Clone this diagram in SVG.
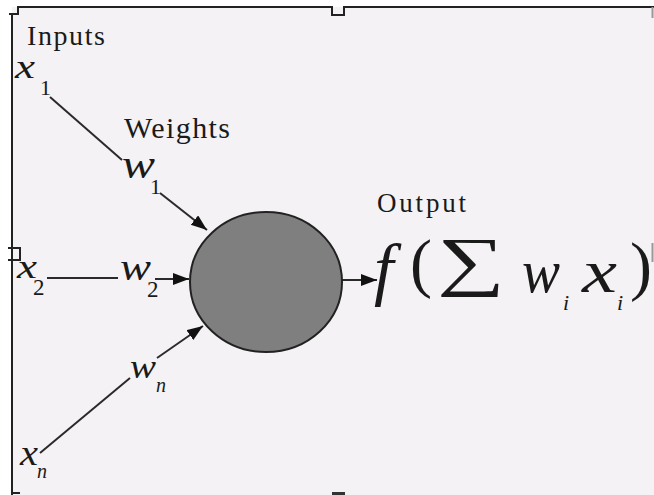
<svg xmlns="http://www.w3.org/2000/svg" width="654" height="495" viewBox="0 0 654 495">
<defs>
<style>
.t{font-family:"Liberation Serif","Times New Roman",serif;fill:#1a1a1a}
.i{font-style:italic}
.ln{stroke:#2a2a2a;stroke-width:2;fill:none}
.fr{stroke:#222;stroke-width:2;fill:none}
</style>
<marker id="ah" markerUnits="userSpaceOnUse" markerWidth="18" markerHeight="14" refX="16" refY="6" orient="auto">
<path d="M0,0 L16,6 L0,12 z" fill="#111"/>
</marker>
</defs>
<rect x="0" y="0" width="654" height="495" fill="#ffffff"/>
<rect x="12" y="7" width="642" height="488" fill="#f4f2f4"/>
<g id="frame">
<path class="fr" d="M9,14 H18 V7 H332 V15 H344 V7 H654"/>
<path class="fr" d="M12,14 V495"/>
<path class="fr" d="M8,248 H20 V260 H8"/>
<path class="fr" d="M12,493 H20"/>
<rect x="332" y="492" width="13" height="3" fill="#333"/>
<path d="M652.5,7 V18 M652.5,243 V262" stroke="#999" stroke-width="2"/>
</g>
<g id="connectors">
<line class="ln" x1="50" y1="97" x2="122" y2="160"/>
<line class="ln" x1="160" y1="193" x2="207" y2="230" marker-end="url(#ah)"/>
<line class="ln" x1="47" y1="278" x2="118" y2="278"/>
<line class="ln" x1="155" y1="279" x2="189" y2="279" marker-end="url(#ah)"/>
<line class="ln" x1="40" y1="453" x2="130" y2="378"/>
<line class="ln" x1="157" y1="358" x2="203" y2="326" marker-end="url(#ah)"/>
<line class="ln" x1="342" y1="280" x2="377" y2="280" marker-end="url(#ah)"/>
</g>
<g id="neuron">
<ellipse cx="266" cy="282" rx="76" ry="70" fill="#7f7f7f" stroke="#222" stroke-width="2"/>
</g>
<g id="labels">
<text class="t" x="27" y="45" font-size="28" textLength="78">Inputs</text>
<text class="t" x="124" y="138" font-size="30" textLength="106">Weights</text>
<text class="t" x="377" y="212" font-size="27" textLength="89">Output</text>
</g>
<g id="x1">
<text class="t i" x="15" y="78" font-size="34" textLength="20" lengthAdjust="spacingAndGlyphs">x</text>
<text class="t" x="40" y="95" font-size="22">1</text>
</g>
<g id="w1">
<text class="t i" x="122" y="178" font-size="40" textLength="33" lengthAdjust="spacingAndGlyphs">w</text>
<text class="t" x="150" y="194" font-size="22">1</text>
</g>
<g id="x2">
<text class="t i" x="17" y="278" font-size="34" textLength="20" lengthAdjust="spacingAndGlyphs">x</text>
<text class="t" x="33" y="295" font-size="23">2</text>
</g>
<g id="w2">
<text class="t i" x="120" y="280" font-size="38" textLength="31" lengthAdjust="spacingAndGlyphs">w</text>
<text class="t" x="147" y="297" font-size="23">2</text>
</g>
<g id="xn">
<text class="t i" x="20" y="465" font-size="36" textLength="18" lengthAdjust="spacingAndGlyphs">x</text>
<text class="t i" x="37" y="478" font-size="20">n</text>
</g>
<g id="wn">
<text class="t i" x="130" y="378" font-size="34" textLength="26" lengthAdjust="spacingAndGlyphs">w</text>
<text class="t i" x="156" y="392" font-size="20">n</text>
</g>
<g id="output">
<text class="t i" x="374" y="292" font-size="70">f</text>
<text class="t" x="410" y="285" font-size="66">(</text>
<text class="t" x="437" y="283" font-size="66" textLength="68" lengthAdjust="spacingAndGlyphs">∑</text>
<text class="t i" x="522" y="292" font-size="62" textLength="38" lengthAdjust="spacingAndGlyphs">w</text>
<text class="t i" x="563" y="310" font-size="22">i</text>
<text class="t i" x="582" y="292" font-size="62" textLength="35" lengthAdjust="spacingAndGlyphs">x</text>
<text class="t i" x="617" y="310" font-size="22">i</text>
<text class="t" x="630" y="288" font-size="66">)</text>
</g>
</svg>
